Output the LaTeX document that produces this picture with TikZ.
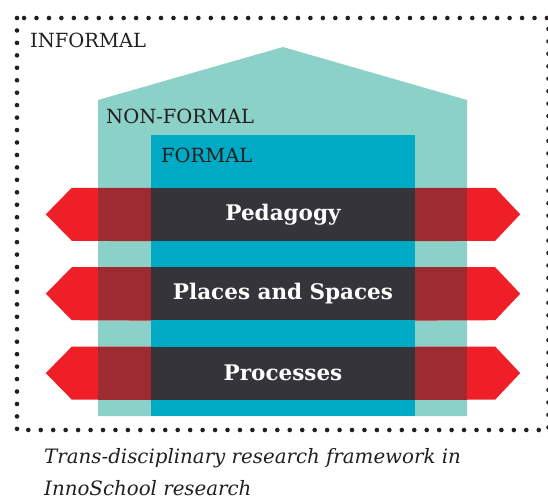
\documentclass[tikz,border=0pt]{standalone}
\usepackage{fontspec}
\setmainfont{DejaVu Serif}
\usetikzlibrary{positioning}

\definecolor{nonformalfill}{HTML}{8CD1C7}
\definecolor{formalfill}{HTML}{00AAC4}
\definecolor{arrowred}{HTML}{EE1F27}
\definecolor{overlapred}{HTML}{9E2B32}
\definecolor{bardark}{HTML}{35343A}
\definecolor{labeltext}{HTML}{231F20}

\begin{document}
\begin{tikzpicture}[x=1pt,y=-1pt,node distance=26pt,
    dotframe/.style={draw=labeltext,line width=4.6pt,line cap=round,dash pattern=on 0pt off 12.45pt},
    levellabel/.style={anchor=base west,text=labeltext,inner sep=0pt,font=\fontsize{19.5}{20}\selectfont},
    bar/.style={fill=bardark,text=white,minimum width=264pt,minimum height=53pt,inner sep=0pt,font=\bfseries\fontsize{21.5}{22}\selectfont},
    caption/.style={anchor=base west,align=left,inner sep=0pt,text=labeltext,font=\itshape\fontsize{19.8}{32}\selectfont}]
  \useasboundingbox (0,0) rectangle (548,499);

  % informal learning: dotted frame
  \draw[dotframe] (17,18) rectangle (548.5,430);
  \node[levellabel] (informal) at (30,47) {INFORMAL};

  % non-formal learning: house shape
  \fill[nonformalfill] (98,416) -- (98,100) -- (283,47) -- (467,100) -- (467,416) -- cycle;
  \node[levellabel] (nonformal) at (106,123) {NON-FORMAL};

  % formal learning
  \fill[formalfill] (151,135) rectangle (415,416);
  \node[levellabel] (formal) at (161,162) {FORMAL};

  % research themes
  \node[bar] (pedagogy) at (283,214.5) {Pedagogy};
  \node[bar,below=of pedagogy] (places) {Places and Spaces};
  \node[bar,below=of places] (processes) {Processes};

  % double arrows behind each theme
  \foreach \n in {pedagogy,places,processes} {
    \fill[arrowred] (\n.north west) -- ++(-79,0) -- ++(-26,26.5) -- ++(26,26.5) -- (\n.south west) -- cycle;
    \fill[arrowred] (\n.north east) -- ++(80,0) -- ++(25,26.5) -- ++(-25,26.5) -- (\n.south east) -- cycle;
    \fill[overlapred] (\n.north west) rectangle ++(-53,53);
    \fill[overlapred] (\n.north east) rectangle ++(52,53);
  }

  % last baseline of the two-line caption
  \node[caption] (caption) at (44,495) {Trans-disciplinary research framework in\\InnoSchool research};
\end{tikzpicture}
\end{document}
